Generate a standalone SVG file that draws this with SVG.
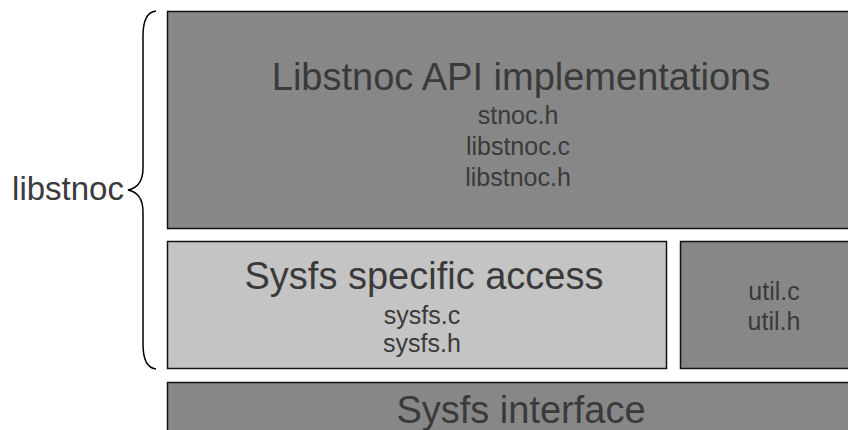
<svg xmlns="http://www.w3.org/2000/svg" width="848" height="430" viewBox="0 0 848 430">
<style>
.box{stroke:#111;stroke-width:1.5}
.dark{fill:#878787}
.light{fill:#c4c4c4}
text{font-family:"Liberation Sans",Arial,sans-serif;fill:#3a3a3a;text-anchor:middle}
.big{font-size:38px}
.small{font-size:25px}
.brace{fill:none;stroke:#000;stroke-width:1.5}
</style>
<rect width="848" height="430" fill="#fff"/>
<g id="api">
<rect class="box dark" x="167.5" y="11.5" width="710" height="217"/>
<text class="big" x="521" y="90">Libstnoc API implementations</text>
<text class="small" x="518" y="124">stnoc.h</text>
<text class="small" x="518" y="155">libstnoc.c</text>
<text class="small" x="518" y="186">libstnoc.h</text>
</g>
<g id="sysfs-access">
<rect class="box light" x="167.5" y="241.5" width="499" height="127"/>
<text class="big" x="424" y="289">Sysfs specific access</text>
<text class="small" x="422" y="324">sysfs.c</text>
<text class="small" x="422" y="352">sysfs.h</text>
</g>
<g id="util">
<rect class="box dark" x="680.5" y="241.5" width="190" height="127"/>
<text class="small" x="774" y="300">util.c</text>
<text class="small" x="774" y="330">util.h</text>
</g>
<g id="sysfs-interface">
<rect class="box dark" x="167.5" y="382.5" width="710" height="60"/>
<text class="big" x="521" y="423">Sysfs interface</text>
</g>
<g id="libstnoc-label">
<text x="68" y="200" style="font-size:33px">libstnoc</text>
</g>
<g id="connectors">
<path class="brace" d="M156,11 C146,12 143,22 143,36 L143,168 C143,180 138,188 128,190 C138,192 143,200 143,212 L143,344 C143,358 146,368 156,369"/>
</g>
</svg>
